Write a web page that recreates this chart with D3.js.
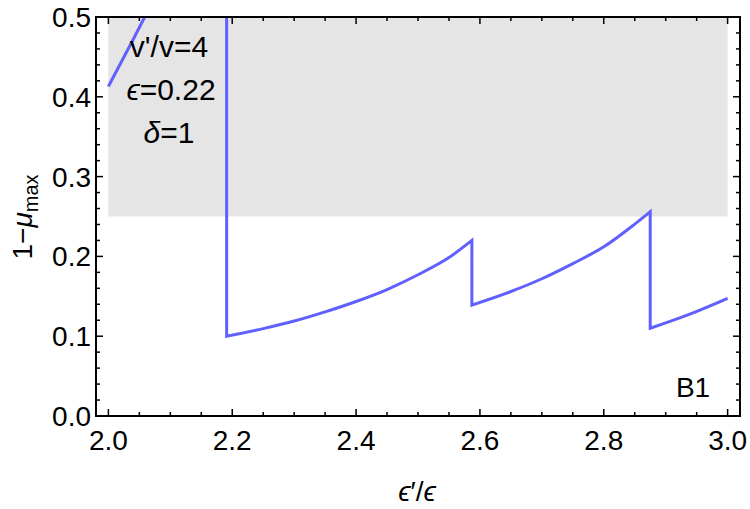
<!DOCTYPE html>
<html><head><meta charset="utf-8">
<script src="https://cdn.jsdelivr.net/npm/d3@7"></script>
<style>body{margin:0;background:#fff}svg{font-family:"Liberation Sans",Arial,sans-serif}</style>
</head><body><svg id="c" width="750" height="509"></svg>
<script>
// branch values (x = ε'/ε, y = 1-μmax)
const branch1X = [2.0, 2.03, 2.06, 2.10, 2.15, 2.191];
const branch1Y = [0.413, 0.457, 0.502, 0.565, 0.645, 0.71];
const branch2X = [2.191, 2.25, 2.30, 2.35, 2.40, 2.45, 2.50, 2.55, 2.587];
const branch2Y = [0.100, 0.1095, 0.119, 0.1305, 0.1435, 0.1585, 0.177, 0.1985, 0.220];
const branch3X = [2.587, 2.65, 2.70, 2.75, 2.80, 2.85, 2.875];
const branch3Y = [0.139, 0.156, 0.172, 0.191, 0.212, 0.2405, 0.256];
const branch4X = [2.875, 2.94, 3.0];
const branch4Y = [0.110, 0.128, 0.1475];
const shadedX = [2.0, 3.0];
const shadedY = [0.25, 0.5];
const xTicks = [2.0, 2.2, 2.4, 2.6, 2.8, 3.0];
const yTicks = [0.0, 0.1, 0.2, 0.3, 0.4, 0.5];

const svg = d3.select("#c");
const L = 96, R = 740, T = 17, B = 416;
const x = d3.scaleLinear().domain([1.98, 3.02]).range([L, R]);
const y = d3.scaleLinear().domain([0, 0.5]).range([B, T]);

svg.append("defs").append("clipPath").attr("id","clip")
  .append("rect").attr("x",L).attr("y",T).attr("width",R-L).attr("height",B-T);

svg.append("rect")
  .attr("x", x(shadedX[0])).attr("y", y(shadedY[1]))
  .attr("width", x(shadedX[1]) - x(shadedX[0]))
  .attr("height", y(shadedY[0]) - y(shadedY[1]))
  .attr("fill", "#e5e5e5").attr("clip-path","url(#clip)");

const line = d3.line().x(d=>x(d[0])).y(d=>y(d[1])).curve(d3.curveMonotoneX);
let dStr = "";
[[branch1X,branch1Y],[branch2X,branch2Y],[branch3X,branch3Y],[branch4X,branch4Y]].forEach(([xs,ys],k)=>{
  const p = line(xs.map((v,i)=>[v, ys[i]]));
  dStr += (k === 0 ? p : "L" + p.slice(1));
});
svg.append("path").attr("d", dStr)
  .attr("fill","none").attr("stroke","#6060ff").attr("stroke-width",3)
  .attr("stroke-linejoin","miter").attr("clip-path","url(#clip)");

// frame with inward ticks
const fs = 28;
const xMinor = d3.range(1.95, 3.03, 0.05).filter(v => v >= 1.98 && v <= 3.02);
const yMinor = d3.range(0, 0.501, 0.02);
const g = svg.append("g").attr("stroke","#000");
xMinor.forEach(v=>{
  const isMaj = Math.abs(v*5 - Math.round(v*5)) < 1e-6;
  const len = isMaj ? 7 : 4;
  g.append("line").attr("x1",x(v)).attr("x2",x(v)).attr("y1",B).attr("y2",B-len).attr("stroke-width",1.5);
  g.append("line").attr("x1",x(v)).attr("x2",x(v)).attr("y1",T).attr("y2",T+len).attr("stroke-width",1.5);
});
yMinor.forEach(v=>{
  const isMaj = Math.abs(v*10 - Math.round(v*10)) < 1e-6;
  const len = isMaj ? 7 : 4;
  g.append("line").attr("y1",y(v)).attr("y2",y(v)).attr("x1",L).attr("x2",L+len).attr("stroke-width",1.5);
  g.append("line").attr("y1",y(v)).attr("y2",y(v)).attr("x1",R).attr("x2",R-len).attr("stroke-width",1.5);
});
svg.append("rect").attr("x",L).attr("y",T).attr("width",R-L).attr("height",B-T)
  .attr("fill","none").attr("stroke","#000").attr("stroke-width",2);

svg.selectAll(".xt").data(xTicks).enter().append("text")
  .attr("x", d=>x(d)).attr("y", 450).attr("text-anchor","middle")
  .attr("font-size",fs).text(d=>d.toFixed(1));
svg.selectAll(".yt").data(yTicks).enter().append("text")
  .attr("x", L-5).attr("y", d=>y(d)+10).attr("text-anchor","end")
  .attr("font-size",fs).text(d=>d.toFixed(1));

// axis titles
const xt = svg.append("text").attr("x",417).attr("y",501).attr("text-anchor","middle").attr("font-size",fs);
xt.append("tspan").attr("font-style","italic").text("ϵ");
xt.append("tspan").text("′/");
xt.append("tspan").attr("font-style","italic").text("ϵ");

const yt = svg.append("text").attr("transform","translate(32,217) rotate(-90)")
  .attr("text-anchor","middle").attr("font-size",fs);
yt.append("tspan").text("1−");
yt.append("tspan").attr("font-style","italic").text("μ");
yt.append("tspan").attr("font-size",20).attr("dy",6).text("max");

// annotations
const af = 30;
const a1 = svg.append("text").attr("x",169).attr("y",57).attr("text-anchor","middle").attr("font-size",af).text("v'/v=4");
const a2 = svg.append("text").attr("x",171).attr("y",100).attr("text-anchor","middle").attr("font-size",af);
a2.append("tspan").attr("font-style","italic").text("ϵ"); a2.append("tspan").text("=0.22");
const a3 = svg.append("text").attr("x",169).attr("y",143).attr("text-anchor","middle").attr("font-size",af);
a3.append("tspan").attr("font-style","italic").text("δ"); a3.append("tspan").text("=1");
svg.append("text").attr("x",693).attr("y",397).attr("text-anchor","middle").attr("font-size",fs).text("B1");
</script></body></html>
